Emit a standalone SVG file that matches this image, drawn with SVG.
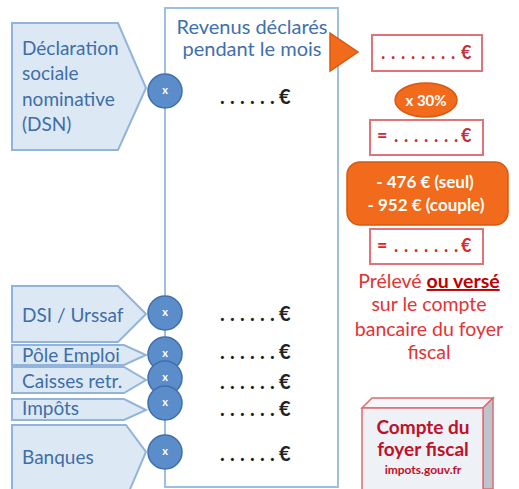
<svg xmlns="http://www.w3.org/2000/svg" width="519" height="489" viewBox="0 0 519 489">
<style>
.pent{fill:#dde8f5;stroke:#93b4da;stroke-width:2}
.plab{font-family:Lato,"Open Sans",sans-serif;font-size:19px;fill:#3d6ea9}
.dot{fill:#5b8dca;stroke:#3f70ad;stroke-width:1.5}
.x{font-family:Lato,sans-serif;font-size:11px;font-weight:bold;fill:#fff;text-anchor:middle}
.val{font-family:Lato,sans-serif;font-size:20px;font-weight:bold;fill:#222}
.rbox{fill:#fff;stroke:#e07378;stroke-width:2}
.rval{font-family:Lato,sans-serif;font-size:18px;font-weight:bold;fill:#c23040}
.or{fill:#f26a1b;stroke:#d9590f;stroke-width:1.5}
.wt{font-family:Lato,sans-serif;font-weight:bold;fill:#fff;text-anchor:middle}
.red{font-family:Lato,sans-serif;font-size:19.5px;fill:#e53232;text-anchor:middle}
.dr{font-family:Lato,sans-serif;font-weight:bold;fill:#c0102a;text-anchor:middle}
</style>
<rect width="519" height="489" fill="#fff"/>
<g id="main">
<rect x="165" y="8" width="173" height="479" fill="#fff" stroke="#9cbfe2" stroke-width="2"/>
<text font-family="Lato,sans-serif" font-size="20" fill="#3f70ad" text-anchor="middle"><tspan x="252" y="34">Revenus déclarés</tspan><tspan x="252" y="56">pendant le mois</tspan></text>
</g>
<g id="connectors">
<polygon points="330,33 358,52 330,71" fill="#f26a1b" stroke="#d9590f" stroke-width="1.5"/>
</g>
<g id="dsn">
<polygon class="pent" points="12,23 118,23 146,88 118,150 12,150"/>
<text class="plab"><tspan x="22" y="55">Déclaration</tspan><tspan x="22" y="80">sociale</tspan><tspan x="22" y="106">nominative</tspan><tspan x="22" y="131">(DSN)</tspan></text>
<circle class="dot" cx="165" cy="91" r="17"/><text class="x" x="165" y="94">x</text>
<text class="val" x="220 230 240 250 260 270 279" y="104">......€</text>
</g>
<g id="dsi">
<polygon class="pent" points="12,286 118,286 146,314 118,342 12,342"/>
<text class="plab" x="22" y="322">DSI / Urssaf</text>
</g>
<g id="pole">
<polygon class="pent" points="12,345 124,345 146,355 124,365 12,365"/>
<text class="plab" x="22" y="362">Pôle Emploi</text>
</g>
<g id="caisses">
<polygon class="pent" points="12,367 124,367 146,380 124,393 12,393"/>
<text class="plab" x="22" y="388">Caisses retr.</text>
</g>
<g id="impots">
<polygon class="pent" points="12,399 124,399 146,410 124,420 12,420"/>
<text class="plab" x="22" y="415">Impôts</text>
</g>
<g id="banques">
<polygon class="pent" points="12,425 126,425 146,452 128,494 12,494"/>
<text class="plab" x="22" y="464">Banques</text>
</g>
<g id="circles">
<circle class="dot" cx="165" cy="313" r="17"/><text class="x" x="165" y="316">x</text>
<circle class="dot" cx="165" cy="354" r="17"/><text class="x" x="165" y="357">x</text>
<circle class="dot" cx="165" cy="378" r="17"/><text class="x" x="165" y="381">x</text>
<circle class="dot" cx="165" cy="403" r="17"/><text class="x" x="165" y="406">x</text>
<circle class="dot" cx="165" cy="452" r="17"/><text class="x" x="165" y="455">x</text>
</g>
<g id="values">
<text class="val" x="220 230 240 250 260 270 279" y="321">......€</text>
<text class="val" x="220 230 240 250 260 270 279" y="359">......€</text>
<text class="val" x="220 230 240 250 260 270 279" y="389">......€</text>
<text class="val" x="220 230 240 250 260 270 279" y="416">......€</text>
<text class="val" x="220 230 240 250 260 270 279" y="461">......€</text>
</g>
<g id="box1">
<rect class="rbox" x="372" y="35" width="110" height="36"/>
<text class="rval" x="381 391 401 411 421 431 441 451 461" y="59">........€</text>
</g>
<g id="taux">
<ellipse class="or" cx="426" cy="100" rx="31" ry="17"/>
<text class="wt" x="426" y="106" font-size="15">x 30%</text>
</g>
<g id="box2">
<rect class="rbox" x="370" y="120" width="113" height="35"/>
<text class="rval" x="377 394 404 414 424 434 444 454 461" y="142">=.......€</text>
</g>
<g id="abattement">
<rect class="or" x="347" y="162" width="161" height="63" rx="13"/>
<text class="wt" font-size="17"><tspan x="425" y="188">- 476 € (seul)</tspan><tspan x="426" y="211">- 952 € (couple)</tspan></text>
</g>
<g id="box3">
<rect class="rbox" x="370" y="229" width="113" height="35"/>
<text class="rval" x="377 394 404 414 424 434 444 454 461" y="252" style="fill:#e02626">=.......€</text>
</g>
<g id="note">
<text class="red"><tspan x="429" y="288">Prélevé <tspan font-weight="bold" fill="#c00000" text-decoration="underline">ou versé</tspan></tspan><tspan x="429" y="311">sur le compte</tspan><tspan x="429" y="336">bancaire du foyer</tspan><tspan x="429" y="359">fiscal</tspan></text>
</g>
<g id="compte">
<polygon points="362,408 372,398 493,398 483,408" fill="#f4f6fa" stroke="#e06a70" stroke-width="1.5"/>
<polygon points="483,408 493,398 493,489 483,489" fill="#bfc4cc" stroke="#e06a70" stroke-width="1.5"/>
<rect x="362" y="408" width="121" height="90" fill="#eef1f6" stroke="#e06a70" stroke-width="1.5"/>
<text class="dr" font-size="19"><tspan x="423" y="434">Compte du</tspan><tspan x="423" y="456">foyer fiscal</tspan></text>
<text class="dr" font-size="12" x="423" y="474">impots.gouv.fr</text>
</g>
</svg>
